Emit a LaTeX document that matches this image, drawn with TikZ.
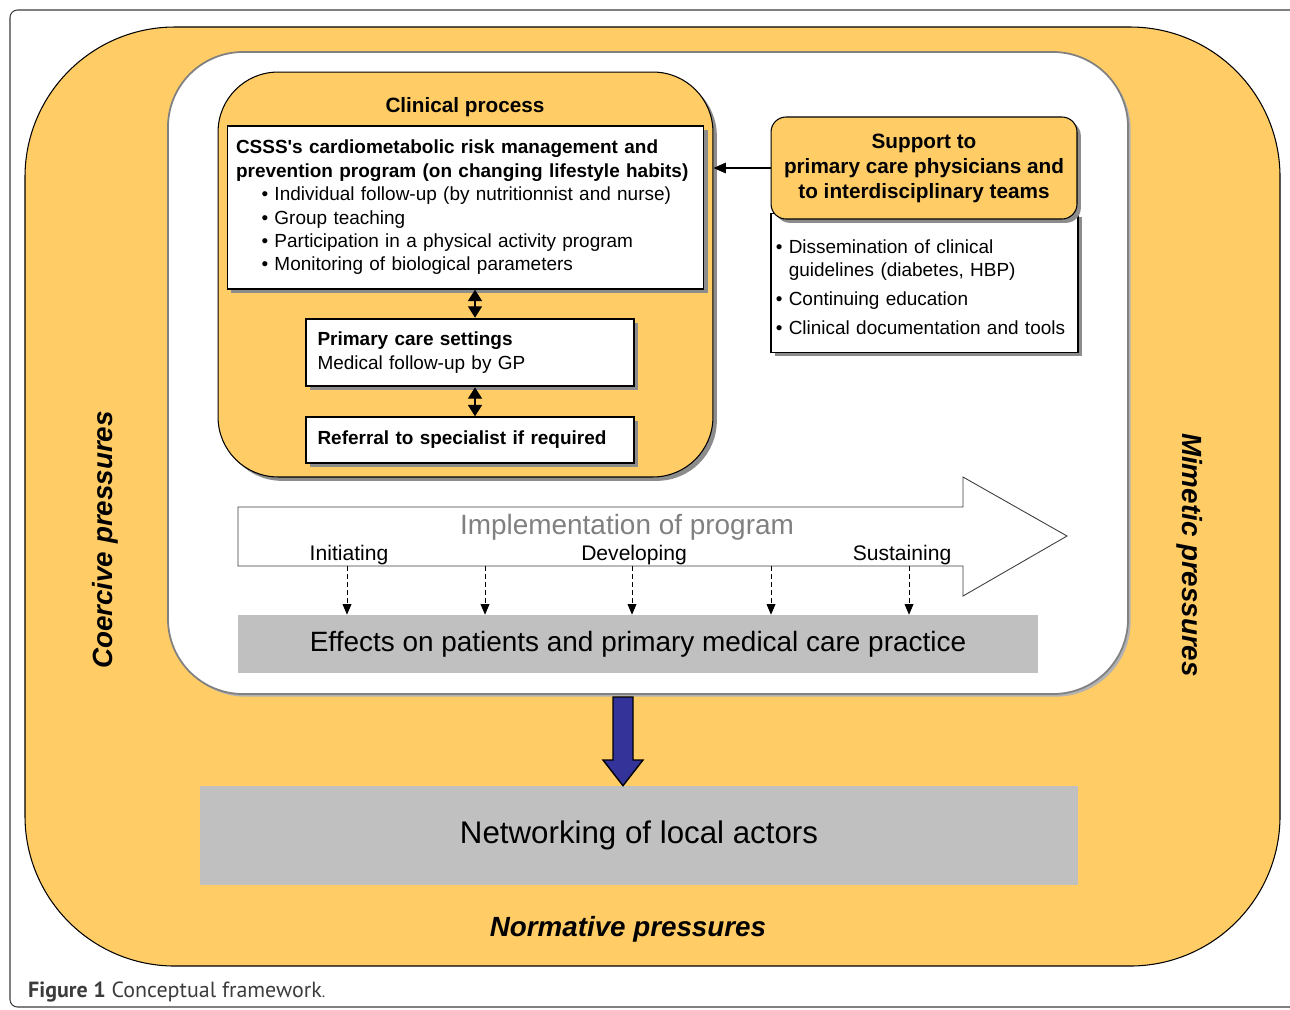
\documentclass[tikz,border=0pt]{standalone}
\usepackage{fontspec}
\setmainfont{Liberation Sans}
\newfontfamily\capfont{PT Sans}
\usetikzlibrary{positioning,shadows,arrows.meta}
\definecolor{pressure}{RGB}{255,204,102}
\definecolor{effectgray}{RGB}{192,192,192}
\definecolor{flowblue}{RGB}{51,51,153}
\definecolor{framegray}{RGB}{60,60,60}

\begin{document}
\begin{tikzpicture}[x=0.02cm, y=-0.02cm,
    every node/.style={font=\fontsize{10.8}{13.3}\selectfont},
    shade box/.style={drop shadow={shadow xshift=2.2pt, shadow yshift=-2.2pt, fill=gray!90, opacity=1}},
    yellowbox/.style={draw, line width=0.6pt, fill=pressure, shade box},
    whitebox/.style={draw, line width=0.8pt, fill=white, shade box, inner xsep=5pt, align=left},
    graybox/.style={fill=effectgray},
    dbl/.style={{Triangle[width=8pt,length=6.5pt]}-{Triangle[width=8pt,length=6.5pt]}, line width=0.8pt},
    stage/.style={dashed, dash pattern=on 2.6pt off 2pt, -{Triangle[width=5pt,length=6pt]}, line width=0.5pt},
    pressurelabel/.style={font=\fontsize{15.8}{18}\selectfont\bfseries\itshape}]
  \useasboundingbox (0,0) rectangle (1290,1009);
  % outer frame and the two rounded areas
  \draw[framegray, line width=0.6pt, rounded corners=0.15cm] (10,10) rectangle (1300,1007);
  \draw[line width=0.6pt, fill=pressure, rounded corners=3cm] (25,27) rectangle (1280,966);
  \draw[gray, line width=1pt, fill=white, rounded corners=1.5cm,
    drop shadow={shadow xshift=1.5pt, shadow yshift=-1.5pt, fill=gray!60, opacity=1}] (168,52) rectangle (1128,694);

  % clinical process
  \node (clinical) [yellowbox, rounded corners=1.2cm, minimum width=9.9cm, minimum height=8.1cm] at (465.5,274.5) {};
  \node (cliniclabel) [font=\fontsize{11.8}{14}\selectfont\bfseries] at (465,107) {Clinical process};
  \node (program) [whitebox, minimum width=9.5cm, minimum height=3.26cm, text width=9.18cm] at (465.5,207.5)
    {\textbf{CSSS\textquotesingle s cardiometabolic risk management and}\\
     \textbf{prevention program (on changing lifestyle habits)}\\
     \hspace*{14.5pt}\textbullet\ Individual follow-up (by nutritionnist and nurse)\\
     \hspace*{14.5pt}\textbullet\ Group teaching\\
     \hspace*{14.5pt}\textbullet\ Participation in a physical activity program\\
     \hspace*{14.5pt}\textbullet\ Monitoring of biological parameters};
  \node (primary) [whitebox, line width=1.5pt, minimum width=6.56cm, minimum height=1.34cm, text width=6.1cm] at (470,352.5)
    {\textbf{Primary care settings}\\ Medical follow-up by GP};
  \node (referral) [whitebox, minimum width=6.56cm, minimum height=0.92cm, text width=6.1cm] at (470,440)
    {\textbf{Referral to specialist if required}};
  \draw[dbl] ([xshift=0.1cm]primary.north) -- ([xshift=0.1cm]primary.north |- program.south);
  \draw[dbl] ([xshift=0.1cm]referral.north) -- ([xshift=0.1cm]referral.north |- primary.south);

  % support
  \node (tools) [whitebox, inner xsep=2.3pt, minimum width=6.14cm, minimum height=2.78cm, text width=5.95cm] at (924.5,283)
    {\\[-1pt]
     \textbullet\ Dissemination of clinical\\
     \hphantom{\textbullet\ }guidelines (diabetes, HBP)\\[3pt]
     \textbullet\ Continuing education\\[3pt]
     \textbullet\ Clinical documentation and tools};
  \node (support) [yellowbox, rounded corners=0.3cm, minimum width=6.12cm, minimum height=2.04cm, align=center,
    font=\fontsize{11.8}{14.2}\selectfont\bfseries] at (924,168)
    {Support to\\ primary care physicians and\\ to interdisciplinary teams};
  \draw[-{Triangle[width=6pt,length=7pt]}, line width=0.6pt] (support.west) -- (support.west -| clinical.east);

  % implementation arrow
  \draw[framegray, line width=0.5pt, fill=white] (238,507) -- (963,507) -- (963,477) -- (1067,536)
    -- (963,596) -- (963,566) -- (238,566) -- cycle;
  \node (implement) [text=gray, font=\fontsize{15.9}{18}\selectfont] at (627,527) {Implementation of program};
  \node (initiating) [font=\fontsize{12}{14}\selectfont] at (349,555) {Initiating};
  \node (developing) [font=\fontsize{12}{14}\selectfont] at (634,555) {Developing};
  \node (sustaining) [font=\fontsize{12}{14}\selectfont] at (902,555) {Sustaining};

  \node (effects) [graybox, minimum width=16cm, minimum height=1.16cm, font=\fontsize{15.9}{18}\selectfont] at (638,644)
    {Effects on patients and primary medical care practice};
  \foreach \x [count=\i] in {347,485,632,771,909} {
    \coordinate (s\i) at (\x,566);
    \draw[stage] (s\i) -- (s\i |- effects.north);
  }

  % networking
  \node (network) [graybox, minimum width=17.56cm, minimum height=1.98cm, font=\fontsize{17.8}{20}\selectfont] at (639,835.5)
    {\raisebox{-2pt}{Networking of local actors}};
  \draw[line width=0.8pt, fill=flowblue] (613,697) -- (633,697) -- (633,760) -- (643,760)
    -- (network.north -| 623,0) -- (603,760) -- (613,760) -- cycle;

  % pressures
  \node (coercive) [pressurelabel, rotate=90] at (105,540) {Coercive pressures};
  \node (mimetic) [pressurelabel, rotate=-90] at (1190,555) {Mimetic pressures};
  \node (normative) [pressurelabel] at (628,929) {Normative pressures};

  \node (caption) [anchor=west, text=framegray, font=\capfont\fontsize{12.5}{14}\selectfont] at (22,992)
    {\textbf{Figure 1} Conceptual framework{\small.}};
\end{tikzpicture}
\end{document}
